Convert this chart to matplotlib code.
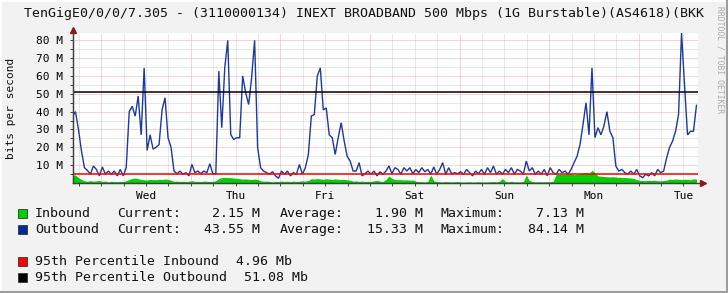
import numpy as np
import matplotlib
matplotlib.use("Agg")
import matplotlib.pyplot as plt
from matplotlib.patches import Rectangle
from matplotlib.lines import Line2D

# ---------------- data ----------------
title = "TenGigE0/0/0/7.305 - (3110000134) INEXT BROADBAND 500 Mbps (1G Burstable)(AS4618)(BKK"
day_labels = ["Wed", "Thu", "Fri", "Sat", "Sun", "Mon", "Tue"]
ytick_values = [10, 20, 30, 40, 50, 60, 70, 80]
ytick_labels = ["10 M", "20 M", "30 M", "40 M", "50 M", "60 M", "70 M", "80 M"]

# samples every 0.8 h, first sample 7.72 h before Wednesday 00:00
start_hour = -7.72
step_hour = 0.8

outbound = [
    37.5, 40, 30, 18, 8.6, 7, 5, 9.5, 7.6, 4, 9, 5, 6.7, 4.9, 6.7, 4, 7.6, 4, 8.6,
    40, 43, 37.5, 48.7, 27, 64.5, 18.3, 27, 19, 20, 21.6, 41, 47.8, 25.4, 20,
    6.7, 5.2, 6.7, 4.9, 5.8, 4, 10.4, 5.8, 6.7, 5.2, 6.7, 5.8, 10.8, 5.2, 5.2, 62.7, 31, 64.5, 80,
    27.2, 24.4, 25.4, 25.4, 60, 50.6, 44, 59, 80, 20,
    8.6, 6.7, 5.8, 4.9, 6.3, 4, 2.6, 6.7, 4.9, 6.7, 4, 5.8, 4.9, 10.4, 4.9, 8.6, 16,
    37.5, 38.4, 60, 64.5, 41, 42, 27, 25.4, 16, 25.4, 33.8, 23.5, 15, 12.3, 6.7, 6.7, 11.4, 4, 5.2,
    6.7, 4.9, 6.7, 4, 6.3, 4.9,
    6.7, 9.5, 5.2, 8.6, 7.6, 4.9, 8.6, 6.7, 8.6, 5.2, 7.6, 5.8, 8.6, 6.3, 7.6, 4.9, 9, 4.9, 7.6,
    11.4, 4.9, 8.6, 5.2, 5.8, 5.2, 6.3, 4.9, 7.6, 5.8, 4, 6.7, 5.2, 7.6, 4.9, 8.6, 5.8, 9.5, 4.9,
    6.7, 4.9, 7.6, 5.8, 8.6, 4.9, 7.6, 6.7, 4.9, 12.3, 6.7, 8.6, 4.9, 6.7,
    4.9, 7.6, 4, 8.6, 5.8, 4.9, 7.6, 5.8, 6.7, 4.9, 7.6, 11.4, 15, 21.6, 32.8, 45, 27, 64.5, 25.4,
    31, 27, 32, 40, 29, 25.4, 9.5, 6.7, 7.6, 5.8, 4.9, 6.7, 4.9, 7.6, 4, 3, 4.9, 4, 5.8, 4, 7.6,
    5.8, 6.7, 14, 20, 23.5, 29, 38.4, 84.1, 55, 27, 29, 29, 43.55,
]

inbound = [
    4.3, 4.5, 3.0, 2.0,
    1.2, 1.0, 1.3, 1.0, 1.2, 1.4, 0.9, 1.1, 0.6, 1.0, 0.8, 0.7, 0.9, 0.8, 1.3,
    2.0, 2.6, 2.8, 2.4, 2.0, 1.8, 1.7, 2.0, 1.9, 1.8, 2.1, 2.0, 2.2, 2.1, 1.5,
    1.0, 1.1, 0.9, 1.0, 0.8, 1.0, 1.3, 0.9, 1.0, 0.8, 1.1, 1.0, 0.9, 1.0, 1.2,
    2.5, 3.0, 3.2, 3.0,
    3.0, 2.8, 2.6, 2.4, 2.2, 2.3, 2.1, 2.0, 2.2, 2.0,
    1.2, 1.0, 1.1, 0.9, 0.6, 1.0, 0.8, 1.1, 0.9, 1.0, 0.8, 1.1, 0.9, 1.0, 1.2, 1.1, 1.4,
    2.4, 2.2, 2.5, 2.3, 2.1, 2.4, 2.2, 2.0, 2.3, 2.1, 1.9, 2.0, 1.8, 1.6,
    1.0, 1.2, 0.9, 1.1, 0.8, 1.0, 0.9, 1.2, 1.5, 1.0, 0.9,
    2.0, 4.0, 2.5, 2.0, 1.8, 1.9, 1.7, 1.8, 1.6, 1.7, 1.0,
    0.8, 0.7, 0.6, 0.8, 4.5, 1.2, 0.8, 0.7, 0.6, 0.8, 0.7, 0.6, 0.7, 0.8, 0.6,
    0.5, 0.6, 0.7, 0.5, 0.6, 0.7, 0.6, 0.5, 0.6, 0.7, 0.8, 0.6, 1.0, 2.5, 1.0, 0.6, 1.0, 0.6,
    0.7, 0.6, 0.8, 4.5, 1.5, 0.8, 0.6, 0.7,
    0.7, 0.6, 0.8, 0.7, 1.0,
    4.8, 5.0, 4.7, 4.9, 4.8, 5.2, 4.6, 4.8, 5.3, 5.6, 6.0, 5.5, 7.1, 5.8,
    4.0, 3.8, 3.6, 3.5, 3.4, 3.5, 3.3, 3.2, 3.0, 3.1, 2.9, 2.8, 2.5, 1.9, 1.5,
    1.4, 1.3, 1.5, 1.4, 1.6, 1.3, 1.2, 1.4, 1.6,
    2.2, 2.0, 2.3, 2.1, 1.9, 2.2, 2.0, 1.8, 2.4, 2.15,
]

pct95_in = 4.96
pct95_out = 51.08

stat_names = ["Inbound", "Outbound"]
stat_current = ["2.15 M", "43.55 M"]
stat_average = ["1.90 M", "15.33 M"]
stat_maximum = ["7.13 M", "84.14 M"]
pct_names = ["95th Percentile Inbound", "95th Percentile Outbound"]
pct_texts = ["4.96 Mb", "51.08 Mb"]

# ---------------- style ----------------
W, H = 728, 293
BG = "#F2F2F2"
GREEN = "#00CF00"
BLUE = "#002A97"
MONO = "DejaVu Sans Mono"

fig = plt.figure(figsize=(W / 100, H / 100), dpi=100, facecolor=BG)

def fx(x):
    return x / W

def fy(y):
    return 1 - y / H

L, R, T, B = 72.5, 698.3, 32.7, 183.0
ax = fig.add_axes([fx(L), fy(B), (R - L) / W, (B - T) / H])
ax.set_facecolor("white")

t = start_hour + step_hour * np.arange(len(outbound))
xmin, xmax = -7.72, 159.97
ymax = 84.25
ax.set_xlim(xmin, xmax)
ax.set_ylim(0, ymax)

# grid (light dotted lines)
dots = (0, (1.0, 1.0))
GRID_MINOR = "#D2D2D2"
GRID_MAJOR = "#F0AAAA"
for h in range(-6, 160, 6):
    c = GRID_MAJOR if h % 24 == 0 else GRID_MINOR
    ax.axvline(h, color=c, lw=0.72, ls=dots, zorder=1)
for v in range(5, 85, 5):
    c = GRID_MAJOR if v % 10 == 0 else GRID_MINOR
    ax.axhline(v, color=c, lw=0.72, ls=dots, zorder=1)

# data
ax.fill_between(t, 0, inbound, color=GREEN, lw=0, zorder=2)
ax.plot(t, outbound, color="#1A3A9C", lw=1.0, zorder=3, solid_joinstyle="miter")
ax.axhline(pct95_in, color="#FF0000", lw=1.1, zorder=4)
ax.axhline(pct95_out, color="#000000", lw=1.1, zorder=4)

# axes / ticks
for s in ["top", "right"]:
    ax.spines[s].set_visible(False)
for s in ["left", "bottom"]:
    ax.spines[s].set_color("#404040")
    ax.spines[s].set_linewidth(0.9)
    ax.spines[s].set_zorder(5)

noon = [12 + 24 * k for k in range(len(day_labels))]
ax.set_xticks(noon)
ax.set_xticklabels(day_labels, family=MONO, fontsize=8)
ax.set_xticks(list(range(-6, 160, 6)), minor=True)
ax.tick_params(axis="x", which="both", direction="out", length=2.2, width=0.7,
               color="#404040", pad=3.5)
ax.set_yticks(ytick_values)
ax.set_yticklabels(ytick_labels, family=MONO, fontsize=8)
ax.set_yticks(list(range(5, 85, 10)), minor=True)
ax.tick_params(axis="y", which="both", direction="out", length=2.2, width=0.7,
               color="#404040", pad=4.5)

# arrows at the axis ends
fig.add_artist(Line2D([fx(L), fx(L)], [fy(B), fy(29)], color="#404040", lw=0.9))
fig.add_artist(Line2D([fx(L), fx(703)], [fy(B), fy(B)], color="#404040", lw=0.9))
fig.add_artist(Line2D([fx(L)], [fy(29.5)], marker="^", color="#8B1A1A",
                      markersize=4.2, lw=0))
fig.add_artist(Line2D([fx(702.5)], [fy(B)], marker=">", color="#8B1A1A",
                      markersize=4.2, lw=0))

# texts
fig.text(fx(24), fy(13.5), title, ha="left", va="center", family=MONO,
         fontsize=9.55, color="#111111")
fig.text(fx(720), fy(6), "RRDTOOL / TOBI OETIKER", rotation=-90, ha="center",
         va="top", family=MONO, fontsize=5.8, color="#A9A9A9")
fig.text(fx(11), fy(108), "bits per second", rotation=90, ha="center",
         va="center", family=MONO, fontsize=8, color="#111111")

rows = [213.3, 229.3]
colors = [GREEN, BLUE]
for i in range(2):
    y = rows[i]
    fig.add_artist(Rectangle((fx(17.5), fy(y + 4.6)), 9.2 / W, 9.2 / H,
                             transform=fig.transFigure, facecolor=colors[i],
                             edgecolor="#333333", lw=0.6))
    kw = dict(va="center", family=MONO, fontsize=9.5, color="#111111")
    fig.text(fx(35), fy(y), stat_names[i], ha="left", **kw)
    fig.text(fx(116.7), fy(y), "Current:", ha="left", **kw)
    fig.text(fx(260.5), fy(y), stat_current[i], ha="right", **kw)
    fig.text(fx(279.3), fy(y), "Average:", ha="left", **kw)
    fig.text(fx(422.8), fy(y), stat_average[i], ha="right", **kw)
    fig.text(fx(440.7), fy(y), "Maximum:", ha="left", **kw)
    fig.text(fx(584.5), fy(y), stat_maximum[i], ha="right", **kw)

prow = [261.7, 277.3]
pcolors = ["#FF0000", "#000000"]
pxs = [236, 244.3]
for i in range(2):
    y = prow[i]
    fig.add_artist(Rectangle((fx(17.5), fy(y + 4.6)), 9.2 / W, 9.2 / H,
                             transform=fig.transFigure, facecolor=pcolors[i],
                             edgecolor="#333333", lw=0.6))
    kw = dict(va="center", family=MONO, fontsize=9.5, color="#111111")
    fig.text(fx(35), fy(y), pct_names[i], ha="left", **kw)
    fig.text(fx(pxs[i]), fy(y), pct_texts[i], ha="left", **kw)

# 3D-ish border
fig.add_artist(Line2D([0, 1], [fy(1), fy(1)], color="white", lw=1.4))
fig.add_artist(Line2D([fx(1), fx(1)], [0, 1], color="white", lw=1.4))
fig.add_artist(Line2D([0, 1], [fy(291.5), fy(291.5)], color="#9E9E9E", lw=2.2))
fig.add_artist(Line2D([fx(726.5), fx(726.5)], [0, 1], color="#9E9E9E", lw=2.2))

fig.savefig("out.png", dpi=100, facecolor=BG)
